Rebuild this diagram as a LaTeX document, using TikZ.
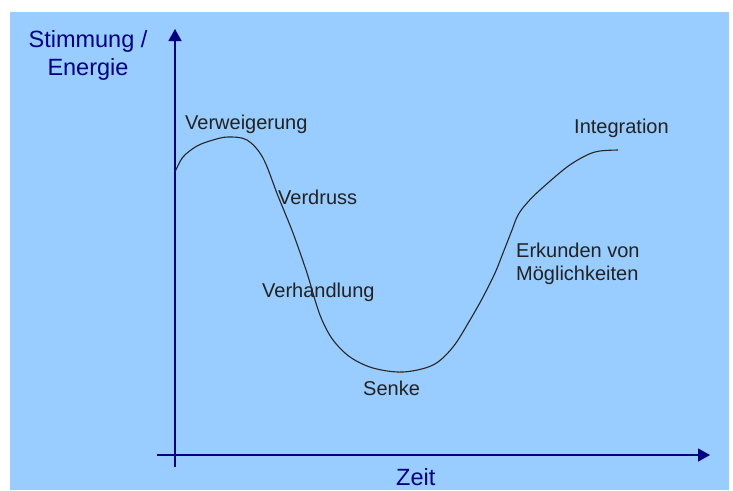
\documentclass[tikz,border=0pt]{standalone}
\usepackage{fontspec}
\setmainfont{Liberation Sans}
\usetikzlibrary{arrows.meta, positioning}
\definecolor{skyblue}{HTML}{99CCFF}
\definecolor{axisblue}{HTML}{000080}
\definecolor{textgray}{HTML}{222222}

\begin{document}
\begin{tikzpicture}[x=1pt, y=-1pt,
  axis/.style={draw=axisblue, line width=1.3pt, -{Triangle[length=12pt, width=13pt]}},
  axislabel/.style={font=\fontsize{23.5}{28}\selectfont, text=axisblue, inner sep=0pt, align=center},
  stage/.style={font=\fontsize{20}{23}\selectfont, text=textgray, inner sep=0pt, anchor=base west, align=left},
  curve/.style={draw=black!85, line width=1.1pt}
]
  \useasboundingbox (0,0) rectangle (733,490);
  \fill[skyblue] (10,12) rectangle (729,490);

  % axes
  \coordinate (origin) at (175,467);
  \coordinate (ytop)   at (175,29);
  \coordinate (xleft)  at (157,455);
  \coordinate (xright) at (710,455);
  \draw[axis] (origin) -- (ytop);
  \draw[axis] (xleft) -- (xright);

  \node[axislabel, anchor=base] (ylab) at (88,75) {Stimmung /\\Energie};
  \node[axislabel, anchor=base west] (xlab) at (396,485) {Zeit};

  % mood curve
  \draw[curve] plot[smooth, tension=0.55] coordinates {
    (175,172) (183,157) (197,146) (213,140) (228,137) (247,140) (263,158)
    (278,196) (293,233) (307,273) (315,300) (322,320) (333,340) (350,357)
    (373,368) (403,372) (433,365) (453,347) (470,320) (483,297) (495,273)
    (503,253) (512,230) (518,215) (527,203) (540,190) (567,167) (587,155)
    (600,151) (618,150)};

  % phases
  \node[stage] (refusal)  at (185,129) {Verweigerung};
  \node[stage] (annoy)    at (278,204) {Verdruss};
  \node[stage] (bargain)  at (262,297) {Verhandlung};
  \node[stage] (sink)     at (363,395) {Senke};
  \node[stage] (explore)  at (516,280) {Erkunden von\\Möglichkeiten};
  \node[stage] (integr)   at (574,133) {Integration};
\end{tikzpicture}
\end{document}
